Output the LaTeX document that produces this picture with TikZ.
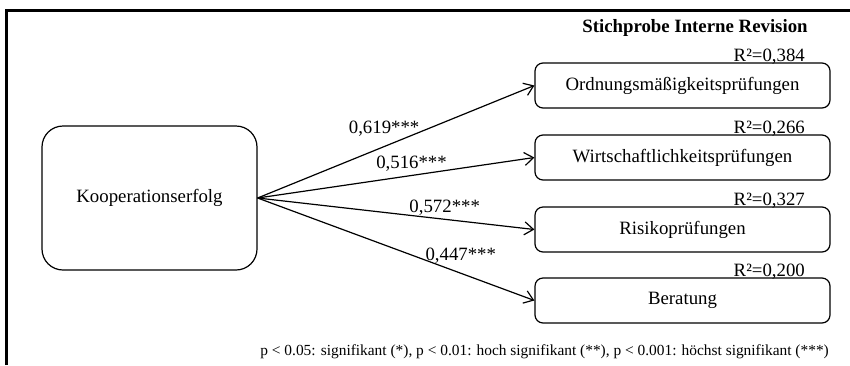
\documentclass[tikz,border=0pt]{standalone}
\usepackage{fontspec}
\setmainfont{Liberation Serif}
\usetikzlibrary{arrows.meta}

\begin{document}
\begin{tikzpicture}[x=1pt,y=-1pt,
	every node/.style={font=\fontsize{18.8}{22}\selectfont},
	box/.style={shape=rectangle,draw=black,line width=1.2pt,rounded corners=8pt,minimum width=295pt,minimum height=45pt,inner sep=0pt},
	arr/.style={line width=1.2pt,-{Straight Barb[length=9pt,width=13pt]}},
	rsq/.style={anchor=base east,inner sep=0pt}]
	\useasboundingbox (0,0) rectangle (850,365);
	\draw[line width=3pt] (6.7,365) -- (6.7,10) -- (850,10);

	\node[shape=rectangle,draw=black,line width=1.2pt,rounded corners=21pt,minimum width=215pt,minimum height=144pt] (k) at (149.5, 198) {Kooperationserfolg};
	\node[box] (o) at (682.5, 85.5)     {Ordnungsmäßigkeitsprüfungen};
	\node[box] (w) at (682.5, 157.5)    {Wirtschaftlichkeitsprüfungen};
	\node[box] (r) at (682.5, 229.5)    {Risikoprüfungen};
	\node[box] (b) at (682.5, 300.5)    {Beratung};

	\node[anchor=base,inner sep=0pt] (title) at (695, 32) {\textbf{Stichprobe Interne Revision}};
	\node[rsq] (ro) at (805, 61.5)   {R²=0,384};
	\node[rsq] (rw) at (805, 133)    {R²=0,266};
	\node[rsq] (rr) at (805, 205)    {R²=0,327};
	\node[rsq] (rb) at (805, 276)    {R²=0,200};

	\path[arr] (k.east) edge node[pos=0.457,above=6pt]{0,619***} (o.west);
	\path[arr] (k.east) edge node[pos=0.556,above]{0,516***} (w.west);
	\path[arr] (k.east) edge node[pos=0.676,above]{0,572***} (r.west);
	\path[arr] (k.east) edge node[pos=0.734,above=6pt]{0,447***} (b.west);

	\node[anchor=base east,inner sep=0pt,font=\fontsize{15.4}{18}\selectfont] (note) at (829, 355) {p < 0.05: signifikant (*), p < 0.01: hoch signifikant (**), p < 0.001: höchst signifikant (***)};
\end{tikzpicture}
\end{document}
